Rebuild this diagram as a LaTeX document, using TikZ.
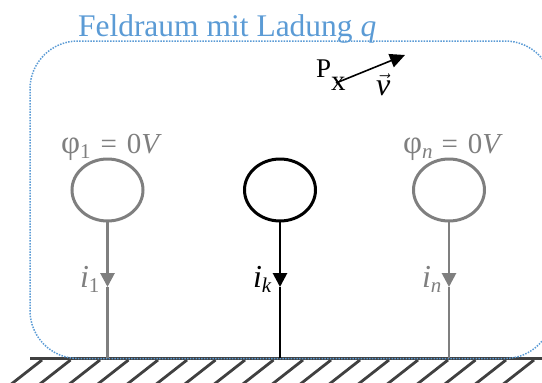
\documentclass[tikz,border=0pt]{standalone}
\usepackage{fontspec}
\setmainfont{Liberation Serif}
\usetikzlibrary{arrows.meta,shapes.geometric}
\definecolor{fieldblue}{HTML}{5B9BD5}
\definecolor{condgray}{HTML}{7F7F7F}
\definecolor{grounddark}{HTML}{404040}
\tikzset{
  cond/.style={ellipse,draw=#1,line width=3pt,minimum width=71pt,minimum height=62pt,inner sep=0pt,outer sep=0pt},
  wirestyle/.style={draw=#1,line width=2.8pt},
  tipstyle/.style={draw=#1,line width=2.8pt,-{Triangle[length=14pt,width=14pt,fill=#1]}},
  hatch/.style={draw=grounddark,line width=2.8pt},
  lbl/.style={anchor=base west,inner sep=0pt,outer sep=0pt,font=\fontsize{#1}{#1}\selectfont},
}
\newcommand{\lowtxt}[1]{\raisebox{-5pt}{\fontsize{21}{21}\selectfont #1}}
\newcommand{\phisym}{{\fontsize{33}{33}\selectfont φ}}
\begin{document}
\begin{tikzpicture}[x=1pt,y=-1pt]
\useasboundingbox (0,0) rectangle (542,383);
% ground
\coordinate (gl) at (30,358.5);
\coordinate (gr) at (542,358.5);
\draw[draw=grounddark,line width=3.6pt] (gl) -- (gr);
\begin{scope}
\clip (0,0) rectangle (542,383);
\foreach \x in {42,70.5,100,128.5,158,187,215.5,245,273.5,303,331,360,389,418,448,475.5,506,534}
  \draw[hatch] (\x,360) -- ({\x-37},389);
% field region
\draw[draw=fieldblue,line width=1.5pt,dash pattern=on 1.5pt off 1.3pt,rounded corners=48pt] (30,41) rectangle (553,358.5);
\end{scope}
% conductors
\node[cond=condgray] (c1) at (107.5,190) {};
\node[cond=black] (ck) at (280,190) {};
\node[cond=condgray] (cn) at (449,190) {};
\coordinate (t1) at (107.5,287);
\coordinate (tk) at (280,287);
\coordinate (tn) at (449,287);
\coordinate (g1) at (107.5,358);
\coordinate (gk) at (280,358);
\coordinate (gn) at (449,358);
\draw[tipstyle=condgray] (c1.south) -- (t1);
\draw[wirestyle=condgray] (t1) -- (g1);
\draw[tipstyle=black] (ck.south) -- (tk);
\draw[wirestyle=black] (tk) -- (gk);
\draw[tipstyle=condgray] (cn.south) -- (tn);
\draw[wirestyle=condgray] (tn) -- (gn);
% texts
\node[lbl=31.5,text=fieldblue] (title) at (78,36) {Feldraum mit Ladung \textit{q}};
\node[lbl=29,text=condgray] (phi1) at (61,153) {\phisym\lowtxt{1}\hspace{10pt}=\hspace{10pt}0\textit{V}};
\node[lbl=29,text=condgray] (phin) at (403,153) {\phisym\lowtxt{\textit{n}}\hspace{9pt}=\hspace{10pt}0\textit{V}};
\node[lbl=32,text=condgray] (i1) at (80,287) {\textit{i}\lowtxt{1}};
\node[lbl=32,text=black] (ik) at (253,287) {\textit{i}\lowtxt{\textit{k}}};
\node[lbl=32,text=condgray] (in) at (422,287) {\textit{i}\lowtxt{\textit{n}}};
\node[lbl=27] (P) at (316,77) {P\raisebox{-13pt}{\fontsize{29}{29}\selectfont x}};
\node[lbl=32] (vv) at (376,95) {$\vec{\mbox{\textit{v}}}$};
% velocity
\coordinate (vs) at (336,83);
\coordinate (ve) at (405,55);
\draw[line width=1.6pt,-{Triangle[length=15pt,width=14pt]}] (vs) -- (ve);
\end{tikzpicture}
\end{document}
